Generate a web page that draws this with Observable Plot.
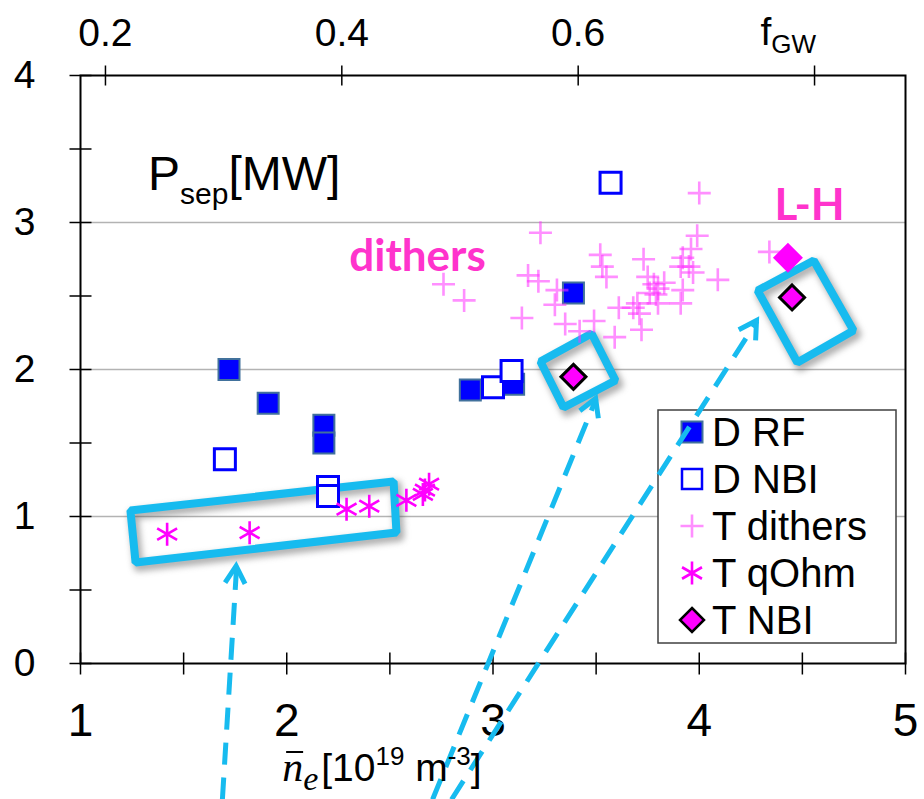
<!DOCTYPE html>
<html><head><meta charset="utf-8">
<script src="https://cdn.jsdelivr.net/npm/d3@7"></script>
<script src="https://cdn.jsdelivr.net/npm/@observablehq/plot@0.6"></script>
<style>
body{margin:0;background:#fff;}
#chart{position:relative;width:924px;height:799px;}
</style></head><body><div id="chart"></div>
<script>
// ---------- data ----------
const xTicks = [1, 2, 3, 4, 5];
const xMinorTicks = [1, 1.5, 2, 2.5, 3, 3.5, 4, 4.5, 5];
const yTicks = [0, 1, 2, 3, 4];
const yMinorTicks = [0, 0.5, 1, 1.5, 2, 2.5, 3, 3.5, 4];
const gridLines = [1, 2, 3];
const fgwTicks = [0.2, 0.4, 0.6, 0.8];
const fgwLabels = ["0.2", "0.4", "0.6", "fGW"];
const fgwSlope = 5.73, fgwOffset = -0.025; // density = slope*fGW + offset

const dRF = [[1.72, 2.0], [1.91, 1.77], [2.18, 1.62], [2.18, 1.50], [2.89, 1.86], [3.10, 1.90], [3.39, 2.52]];
const dNBI = [[1.70, 1.39], [2.20, 1.20], [2.20, 1.14], [3.00, 1.88], [3.09, 1.99], [3.57, 3.27]];
const tDithers = [
  [2.76, 2.58], [2.86, 2.47], [3.14, 2.35], [3.17, 2.64], [3.22, 2.60], [3.23, 2.93], [3.30, 2.44],
  [3.31, 2.54], [3.35, 2.31], [3.42, 2.26], [3.49, 2.33], [3.52, 2.78], [3.53, 2.70], [3.55, 2.63],
  [3.59, 2.22], [3.61, 2.42], [3.68, 2.42], [3.70, 2.45], [3.71, 2.38], [3.72, 2.27], [3.73, 2.75],
  [3.75, 2.63], [3.76, 2.52], [3.78, 2.58], [3.79, 2.51], [3.80, 2.55], [3.80, 2.45], [3.83, 2.59],
  [3.91, 2.70], [3.91, 2.45], [3.92, 2.54], [3.92, 2.76], [3.95, 2.70], [3.96, 2.82], [3.97, 2.66],
  [3.99, 2.91], [4.00, 3.20], [4.09, 2.61], [4.34, 2.80]
];
const tQOhm = [[1.42, 0.88], [1.82, 0.89], [2.29, 1.05], [2.40, 1.07], [2.58, 1.11], [2.66, 1.15], [2.67, 1.18], [2.69, 1.22]];
const tNBI = [[3.39, 1.95], [4.45, 2.49]];
const lhPoint = [[4.43, 2.76]];

const legendItems = ["D RF", "D NBI", "T dithers", "T qOhm", "T NBI"];

// annotations (data coordinates)
const boxQOhm = [[1.242, 1.041], [2.518, 1.238], [2.532, 0.891], [1.267, 0.687]];
const boxNBI = [[3.230, 2.054], [3.478, 2.245], [3.594, 1.925], [3.342, 1.741]];
const boxLH = [[4.283, 2.537], [4.555, 2.741], [4.748, 2.265], [4.476, 2.048]];
const arrowStarts = [[1.688, -0.925], [2.707, -0.925], [2.799, -0.925]];
const arrowEnds = [[1.757, 0.66], [3.50, 1.80], [4.28, 2.33]];
const textNotes = [{x: 2.634, y: 2.769, text: "dithers"}, {x: 4.535, y: 3.116, text: "L-H"}];
const psepPos = [1.33, 3.22];

// ---------- styles ----------
const CYAN = "#17bbef";
const FONT = "'Liberation Sans', Arial, sans-serif";

const symSquare = {draw(c, s) { const r = Math.sqrt(s / Math.PI); c.rect(-r, -r, 2 * r, 2 * r); }};
const symPlus = {draw(c, s) { const r = Math.sqrt(s / Math.PI); c.moveTo(-r, 0); c.lineTo(r, 0); c.moveTo(0, -r); c.lineTo(0, r); }};
const symAster = {draw(c, s) { const r = Math.sqrt(s / Math.PI);
  for (const a of [90, 30, 150]) { const t = a * Math.PI / 180, dx = r * Math.cos(t), dy = r * Math.sin(t); c.moveTo(-dx, -dy); c.lineTo(dx, dy); } }};
const symDiamond = {draw(c, s) { const r = Math.sqrt(s / Math.PI); c.moveTo(0, -r); c.lineTo(r, 0); c.lineTo(0, r); c.lineTo(-r, 0); c.closePath(); }};
const symVTick = {draw(c, s) { const r = Math.sqrt(s / Math.PI); c.moveTo(0, -r); c.lineTo(0, r); }};
const symHTick = {draw(c, s) { const r = Math.sqrt(s / Math.PI); c.moveTo(-r, 0); c.lineTo(r, 0); }};

const boxRows = [];
[boxQOhm, boxNBI, boxLH].forEach((b, k) => b.forEach(p => boxRows.push({id: k, x: p[0], y: p[1]})));
const arrowRows = arrowStarts.map((s, i) => ({x1: s[0], y1: s[1], x2: arrowEnds[i][0], y2: arrowEnds[i][1]}));
const fgwRows = fgwTicks.map((f, i) => ({x: fgwSlope * f + fgwOffset, label: fgwLabels[i]}));

const px = d => d[0], py = d => d[1];

const plot = Plot.plot({
  width: 924, height: 799,
  marginTop: 75, marginRight: 19, marginBottom: 136, marginLeft: 80,
  x: {domain: [1, 5], axis: null},
  y: {domain: [0, 4], axis: null},
  style: {fontFamily: FONT, background: "white", overflow: "visible"},
  marks: [
    Plot.ruleY(gridLines, {y: d => d, stroke: "#b3b3b3", strokeWidth: 1.5}),
    Plot.line(boxRows, {x: "x", y: "y", z: "id", curve: "linear-closed", stroke: "#505050", strokeOpacity: 0.45, strokeWidth: 10, dx: 3, dy: 4}),
    Plot.line(boxRows, {x: "x", y: "y", z: "id", curve: "linear-closed", stroke: CYAN, strokeWidth: 8, strokeLinejoin: "miter"}),
    Plot.dot(dRF, {x: px, y: py, symbol: symSquare, r: 10.5, fill: "#0000ff", stroke: "#41719c", strokeWidth: 2}),
    Plot.dot(dNBI, {x: px, y: py, symbol: symSquare, r: 10.5, fill: "white", stroke: "#0000ff", strokeWidth: 3}),
    Plot.dot(tDithers, {x: px, y: py, symbol: symPlus, r: 11.5, fill: "none", stroke: "#ff33ff", strokeOpacity: 0.55, strokeWidth: 2.6}),
    Plot.dot(tQOhm, {x: px, y: py, symbol: symAster, r: 11.5, fill: "none", stroke: "#ff00ff", strokeWidth: 2.6}),
    Plot.dot(lhPoint, {x: px, y: py, symbol: symDiamond, r: 15, fill: "#ff00ff", stroke: "none"}),
    Plot.dot(tNBI, {x: px, y: py, symbol: symDiamond, r: 12.5, fill: "#ff00ff", stroke: "black", strokeWidth: 3}),
    Plot.frame({stroke: "black", strokeWidth: 2}),
    Plot.dot(xMinorTicks, {x: d => d, y: 0, symbol: symVTick, r: 11, stroke: "black", strokeWidth: 1.5}),
    Plot.dot(fgwRows, {x: "x", y: 4, symbol: symVTick, r: 10, stroke: "black", strokeWidth: 1.5}),
    Plot.dot(yMinorTicks, {x: 1, y: d => d, symbol: symHTick, r: 11, stroke: "black", strokeWidth: 1.5}),
    Plot.text(xTicks, {x: d => d, y: 0, text: d => String(d), lineAnchor: "top", dy: 40, fontSize: 46, fill: "black"}),
    Plot.text(yTicks, {x: 1, y: d => d, text: d => String(d), textAnchor: "end", dx: -45, fontSize: 39, fill: "black"}),
    Plot.text(fgwRows.filter(d => d.label !== "fGW"), {x: "x", y: 4, text: "label", lineAnchor: "bottom", dy: -30, fontSize: 39, fill: "black"}),
    Plot.text(textNotes, {x: "x", y: "y", text: "text", fontSize: 44, fontWeight: "bold", fontFamily: "Lato, 'Open Sans', sans-serif", fill: "#ff33cc"}),
    Plot.link(arrowRows, {x1: "x1", y1: "y1", x2: "x2", y2: "y2", stroke: CYAN, strokeWidth: 5, strokeDasharray: "22,13"})
  ]
});

document.getElementById("chart").appendChild(plot);
const svg = d3.select(plot);
const sx = plot.scale("x"), sy = plot.scale("y");
const X = v => sx.apply(v), Y = v => sy.apply(v);

// blur the shadow of the boxes
svg.select("g[aria-label=line]").style("filter", "blur(3px)");

// arrow heads
const heads = svg.append("g").attr("fill", "none").attr("stroke", CYAN).attr("stroke-width", 5).attr("stroke-linecap", "butt");
arrowRows.forEach(a => {
  const x1 = X(a.x1), y1 = Y(a.y1), x2 = X(a.x2), y2 = Y(a.y2);
  const ang = Math.atan2(y2 - y1, x2 - x1), L = 20, w = Math.PI / 6;
  const p1 = [x2 - L * Math.cos(ang - w), y2 - L * Math.sin(ang - w)];
  const p2 = [x2 - L * Math.cos(ang + w), y2 - L * Math.sin(ang + w)];
  heads.append("path").attr("d", `M${p1}L${x2},${y2}L${p2}`);
});

// legend (inserted under the arrows)
const lg = svg.insert("g", "g[aria-label=link]").attr("text-anchor", "start");
const lx0 = X(1) + 578, ly0 = Y(4) + 335;
lg.append("rect").attr("x", lx0).attr("y", ly0).attr("width", 238).attr("height", 233)
  .attr("fill", "white").attr("stroke", "#404040").attr("stroke-width", 1.5);
const legendSyms = [
  {sym: symSquare, r: 10.5, fill: "#0000ff", stroke: "#41719c", sw: 2, op: 1},
  {sym: symSquare, r: 10, fill: "white", stroke: "#0000ff", sw: 2.5, op: 1},
  {sym: symPlus, r: 11.5, fill: "none", stroke: "#ff33ff", sw: 2.6, op: 0.55},
  {sym: symAster, r: 11.5, fill: "none", stroke: "#ff00ff", sw: 2.6, op: 1},
  {sym: symDiamond, r: 12, fill: "#ff00ff", stroke: "black", sw: 2.5, op: 1}
];
legendItems.forEach((name, i) => {
  const cy = ly0 + 22 + i * 47, cx = lx0 + 34;
  const s = legendSyms[i];
  lg.append("path").attr("transform", `translate(${cx},${cy})`)
    .attr("d", d3.symbol(s.sym, s.r * s.r * Math.PI)())
    .attr("fill", s.fill).attr("stroke", s.stroke).attr("stroke-width", s.sw).attr("stroke-opacity", s.op);
  lg.append("text").attr("x", cx + 20).attr("y", cy).attr("dy", "0.36em")
    .attr("font-family", FONT).attr("font-size", 40).attr("fill", "black").text(name);
});

// f_GW label on top axis
const fg = fgwRows.find(d => d.label === "fGW");
const tf = svg.append("text").attr("x", X(fg.x) + 2).attr("y", Y(4) - 30).attr("text-anchor", "end")
  .attr("font-family", FONT).attr("font-size", 39).attr("fill", "black");
tf.append("tspan").text("f");
tf.append("tspan").attr("font-size", 26).attr("dy", 8).text("GW");

// P_sep[MW]
const tp = svg.append("text").attr("x", X(psepPos[0])).attr("y", Y(psepPos[1])).attr("text-anchor", "start")
  .attr("font-family", FONT).attr("font-size", 48).attr("fill", "black");
tp.append("tspan").text("P");
tp.append("tspan").attr("font-size", 30).attr("dy", 14).text("sep");
tp.append("tspan").attr("dy", -14).text("[MW]");

// x axis title
const tx = svg.append("text").attr("x", X(1.98)).attr("y", Y(0) + 118).attr("text-anchor", "start")
  .attr("font-family", FONT).attr("font-size", 39).attr("fill", "black");
tx.append("tspan").attr("font-family", "'Liberation Serif', serif").attr("font-style", "italic").attr("font-size", 42).text("n");
tx.append("tspan").attr("font-family", "'Liberation Serif', serif").attr("font-style", "italic").attr("font-size", 34).attr("dy", 9).text("e");
tx.append("tspan").attr("dy", -9).attr("dx", 3).text("[10");
tx.append("tspan").attr("font-size", 26).attr("dy", -16).text("19");
tx.append("tspan").attr("dy", 16).text(" m");
tx.append("tspan").attr("font-size", 26).attr("dy", -16).text("-3");
tx.append("tspan").attr("dy", 16).text("]");
// macron over the n̄ (part of the title)
svg.append("line").attr("x1", X(1.98) + 4).attr("x2", X(1.98) + 21)
  .attr("y1", Y(0) + 89).attr("y2", Y(0) + 89).attr("stroke", "black").attr("stroke-width", 2);
</script></body></html>
